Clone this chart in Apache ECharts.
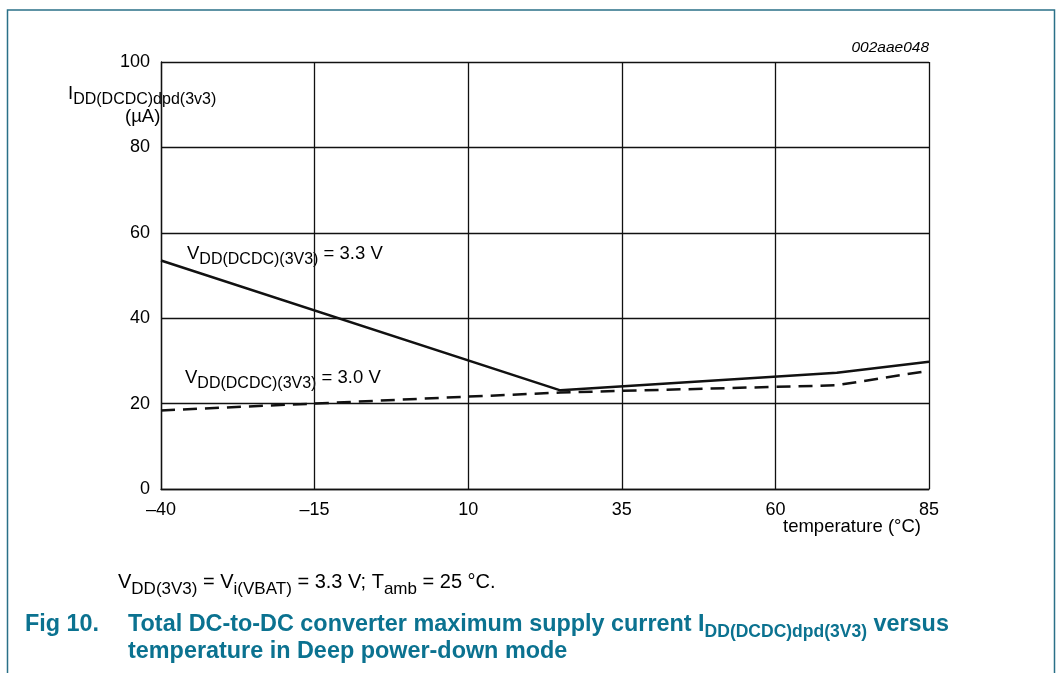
<!DOCTYPE html>
<html>
<head>
<meta charset="utf-8">
<script src="https://cdn.jsdelivr.net/npm/echarts@6/dist/echarts.min.js"></script>
<style>
html,body{margin:0;padding:0;background:#fff;}
#c{width:1063px;height:673px;}
</style>
</head>
<body>
<div id="c"></div>
<script>
// ---- data ----
var temperature33 = [-40, 25, 70, 85];
var current33 = [53.5, 23.1, 27.2, 29.8];
var temperature30 = [-40, 25, 70, 85];
var current30 = [18.4, 22.6, 24.3, 27.7];
var xTicks = [-40, -15, 10, 35, 60, 85];
var yTicks = [0, 20, 40, 60, 80, 100];
var seriesNames = ['VDD(DCDC)(3V3) = 3.3 V', 'VDD(DCDC)(3V3) = 3.0 V'];

var FONT = '"Liberation Sans", Arial, Helvetica, sans-serif';
var TEAL = '#0b7290';

function pairs(xs, ys) { return xs.map(function (x, i) { return [x, ys[i]]; }); }

var mainSt = { fontSize: 18.5, fontFamily: FONT, fill: '#000', lineHeight: 22, verticalAlign: 'top' };
var subSt = { fontSize: 16, fontFamily: FONT, fill: '#000', lineHeight: 16, padding: [8, 0, 0, 0], verticalAlign: 'top' };
var fMain = { fontSize: 20, fontFamily: FONT, fill: '#000', lineHeight: 24, verticalAlign: 'top' };
var fSub = { fontSize: 17, fontFamily: FONT, fill: '#000', lineHeight: 17, padding: [9, 0, 0, 0], verticalAlign: 'top' };
var tMain = { fontSize: 23.4, fontWeight: 'bold', fontFamily: FONT, fill: TEAL, lineHeight: 26, verticalAlign: 'top' };
var tSub = { fontSize: 17.5, fontWeight: 'bold', fontFamily: FONT, fill: TEAL, lineHeight: 18, padding: [10, 0, 0, 0], verticalAlign: 'top' };

var chart = echarts.init(document.getElementById('c'), null, { renderer: 'canvas' });

var option = {
  backgroundColor: '#fff',
  animation: false,
  grid: { left: 161, top: 62, right: 134, bottom: 184, containLabel: false, outerBoundsMode: 'none' },
  xAxis: {
    type: 'value', min: xTicks[0], max: xTicks[xTicks.length - 1], interval: 25,
    axisLine: { show: true, onZero: false, lineStyle: { color: '#111', width: 1.3 } },
    axisTick: { show: false },
    splitLine: { show: true, lineStyle: { color: '#111', width: 1.3 } },
    axisLabel: {
      margin: 12, color: '#000', fontSize: 18, fontFamily: FONT,
      formatter: function (v) { return String(v).replace('-', '\u2013'); }
    }
  },
  yAxis: {
    type: 'value', min: yTicks[0], max: yTicks[yTicks.length - 1], interval: 20,
    axisLine: { show: true, onZero: false, lineStyle: { color: '#111', width: 1.3 } },
    axisTick: { show: false },
    splitLine: { show: true, lineStyle: { color: '#111', width: 1.3 } },
    axisLabel: { margin: 11, color: '#000', fontSize: 18, fontFamily: FONT }
  },
  series: [
    {
      name: seriesNames[0], type: 'line', data: pairs(temperature33, current33),
      symbol: 'none', lineStyle: { color: '#111', width: 2.5, type: 'solid' }
    },
    {
      name: seriesNames[1], type: 'line', data: pairs(temperature30, current30),
      symbol: 'none', lineStyle: { color: '#111', width: 2.5, type: [14, 8] }
    }
  ],
  graphic: [
    { type: 'rect', shape: { x: 7.5, y: 10, width: 1047, height: 700 }, style: { fill: 'none', stroke: '#2a7088', lineWidth: 1.5 }, silent: true },
    { type: 'text', right: 134, top: 40, style: { text: '002aae048', fontSize: 15.5, fontStyle: 'italic', fontFamily: FONT, fill: '#000' } },
    { type: 'text', left: 68, top: 84, style: { text: '{m|I}{s|DD(DCDC)dpd(3v3)}', rich: { m: mainSt, s: subSt } } },
    { type: 'text', left: 125, top: 107, style: { text: '(\u00b5A)', fontSize: 18.5, fontFamily: FONT, fill: '#000' } },
    { type: 'text', left: 187, top: 244, style: { text: '{m|V}{s|DD(DCDC)(3V3)}{m| = 3.3 V}', rich: { m: mainSt, s: subSt } } },
    { type: 'text', left: 185, top: 368, style: { text: '{m|V}{s|DD(DCDC)(3V3)}{m| = 3.0 V}', rich: { m: mainSt, s: subSt } } },
    { type: 'text', left: 783, top: 517, style: { text: 'temperature (\u00b0C)', fontSize: 18.5, fontFamily: FONT, fill: '#000' } },
    { type: 'text', left: 118, top: 572, style: { text: '{m|V}{s|DD(3V3)}{m| = V}{s|i(VBAT)}{m| = 3.3 V; T}{s|amb}{m| = 25 \u00b0C.}', rich: { m: fMain, s: fSub } } },
    { type: 'text', left: 25, top: 613, style: { text: '{m|Fig 10.}', rich: { m: tMain } } },
    { type: 'text', left: 128, top: 613, style: { text: '{m|Total DC-to-DC converter maximum supply current I}{s|DD(DCDC)dpd(3V3)}{m| versus}', rich: { m: tMain, s: tSub } } },
    { type: 'text', left: 128, top: 640, style: { text: '{m|temperature in Deep power-down mode}', rich: { m: tMain } } }
  ]
};
chart.setOption(option);
</script>
</body>
</html>
